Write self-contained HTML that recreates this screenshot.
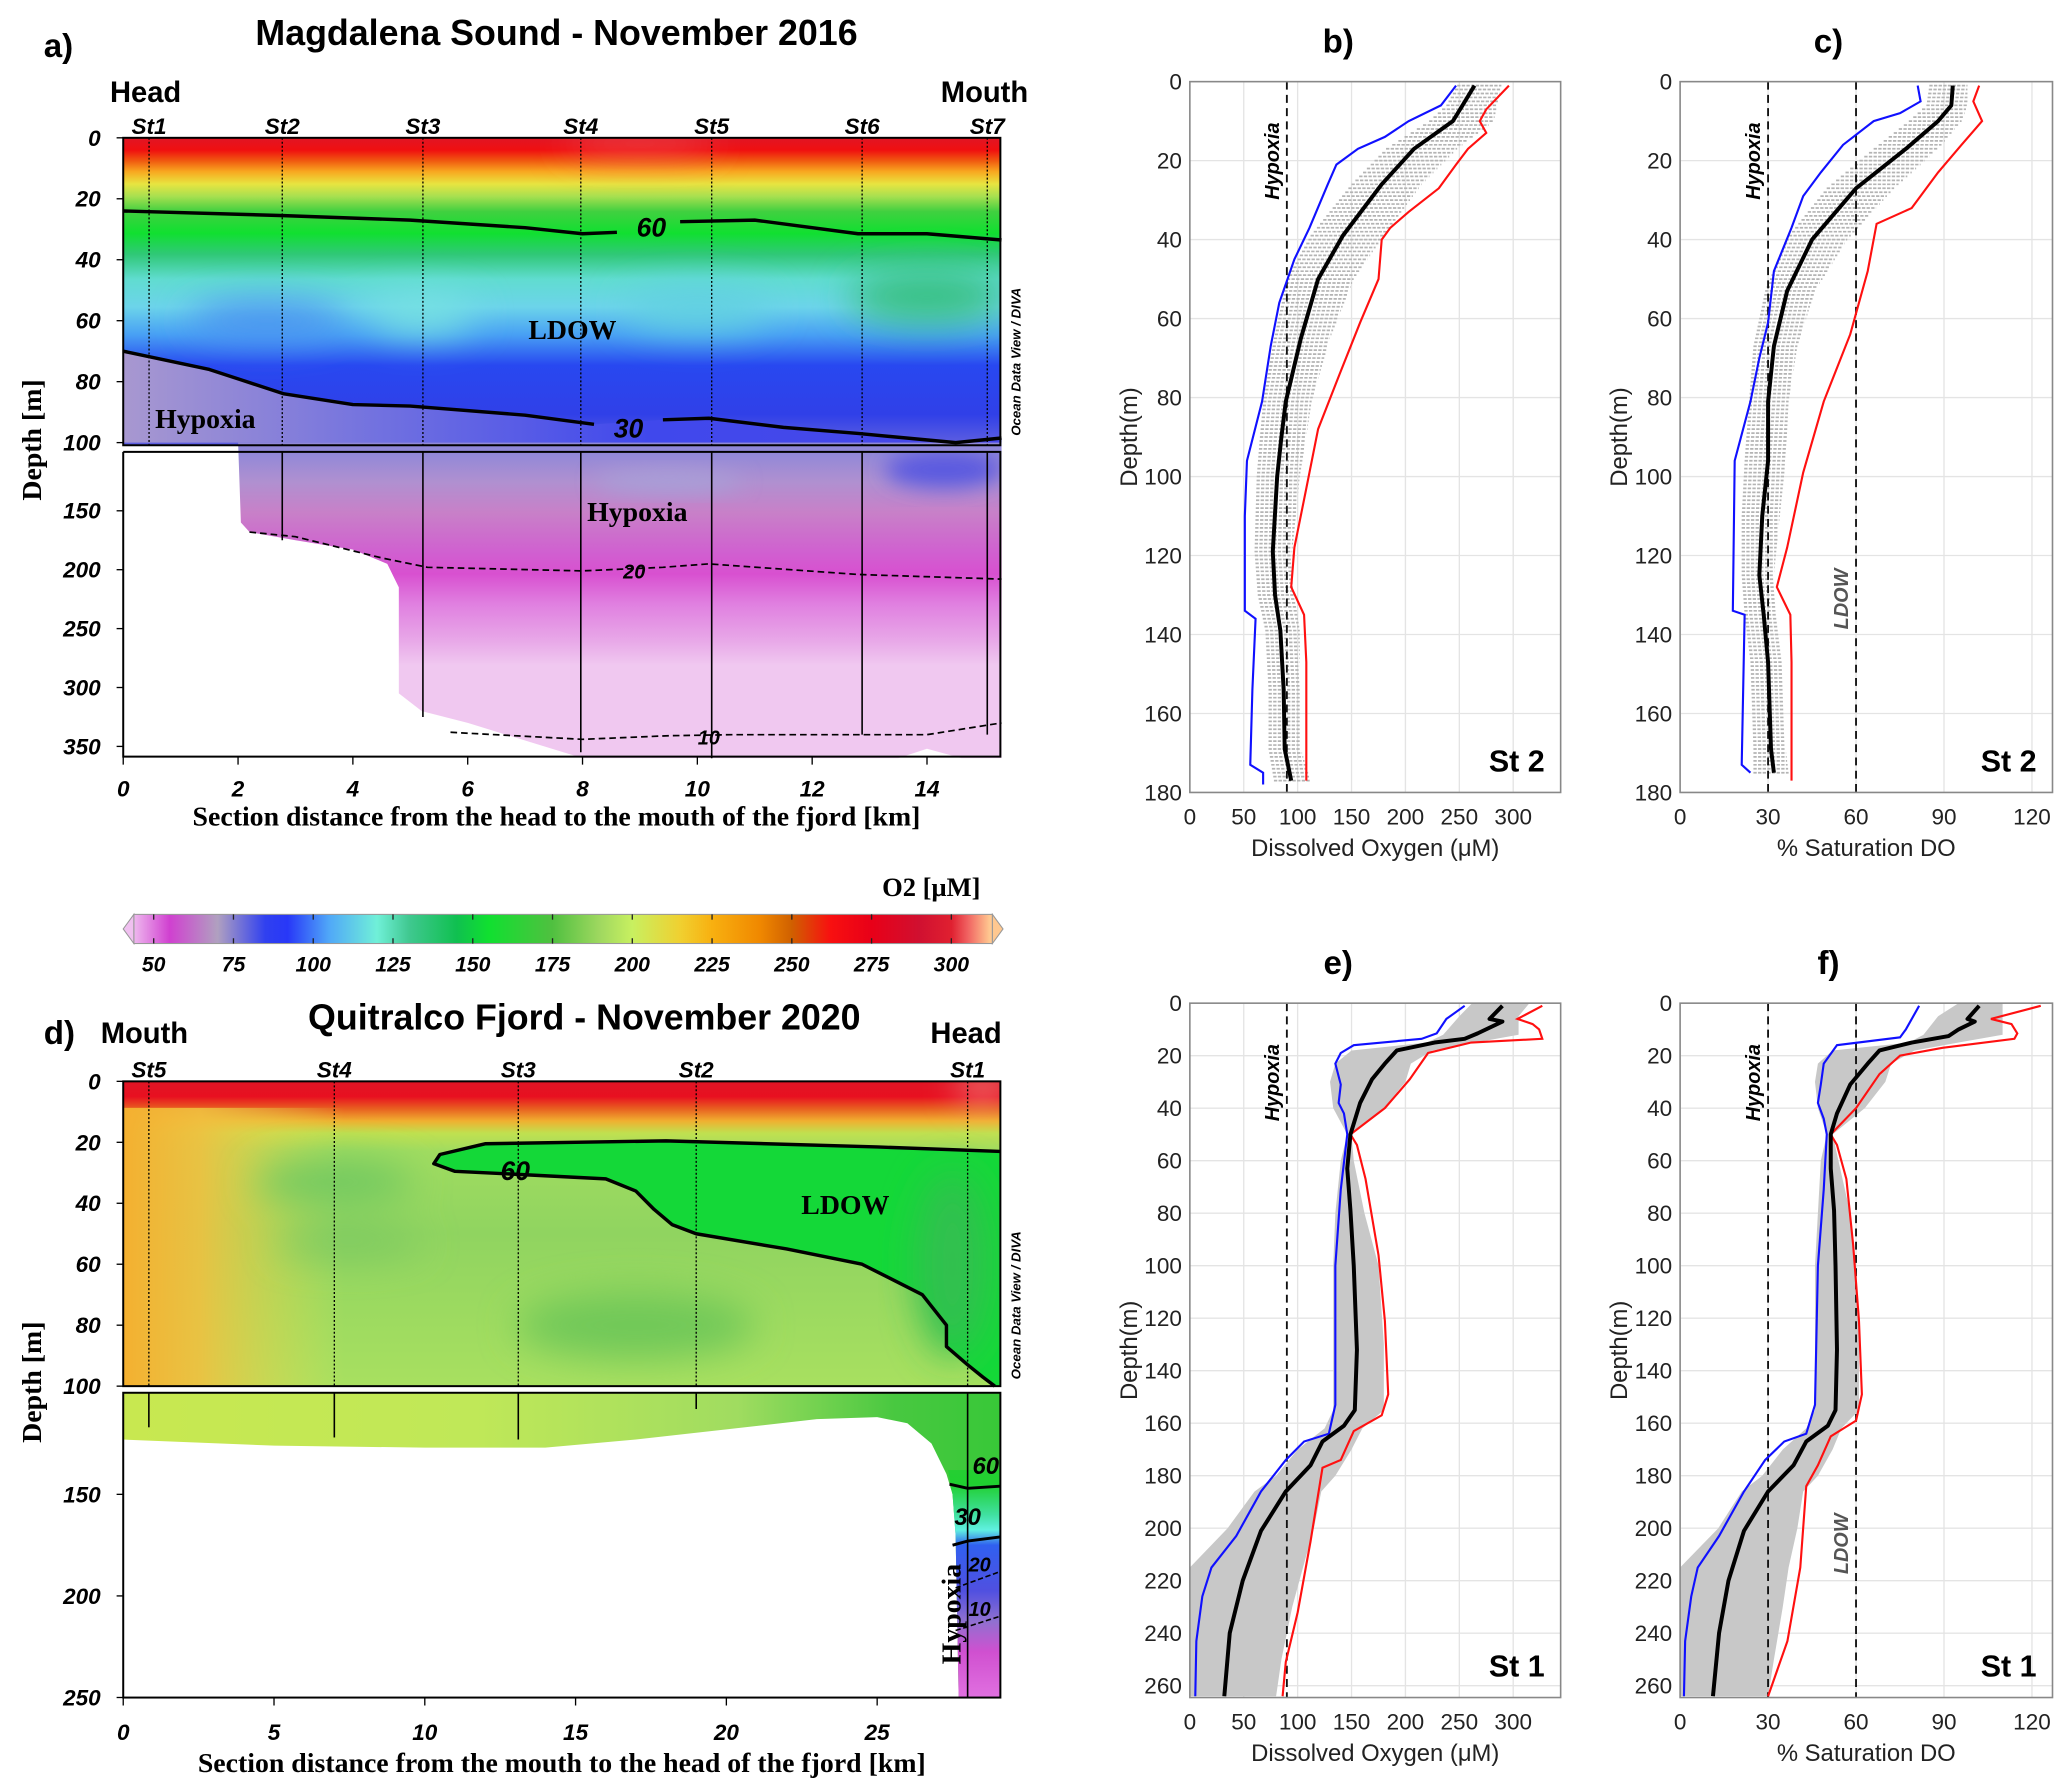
<!DOCTYPE html>
<html><head><meta charset="utf-8"><title>Oxygen sections and profiles</title>
<style>
html,body{margin:0;padding:0;background:#fff;}
svg{display:block;}
</style></head>
<body>
<svg id="fig" xmlns="http://www.w3.org/2000/svg" width="2067" height="1789" viewBox="0 0 1560 1350" preserveAspectRatio="none">
<defs>
<filter id="blur8" x="-50%" y="-50%" width="200%" height="200%"><feGaussianBlur stdDeviation="8"/></filter>
<filter id="blur14" x="-50%" y="-50%" width="200%" height="200%"><feGaussianBlur stdDeviation="14"/></filter>
<linearGradient id="gAtop" gradientUnits="userSpaceOnUse" x1="0" y1="104" x2="0" y2="336">
<stop offset="0" stop-color="#e01525"/><stop offset="0.04" stop-color="#f01010"/><stop offset="0.075" stop-color="#f05a10"/><stop offset="0.11" stop-color="#f8a820"/><stop offset="0.15" stop-color="#e8e440"/><stop offset="0.19" stop-color="#a8e050"/><stop offset="0.24" stop-color="#40d040"/><stop offset="0.31" stop-color="#10e030"/><stop offset="0.38" stop-color="#30c878"/><stop offset="0.46" stop-color="#60dcd0"/><stop offset="0.55" stop-color="#6cd4ea"/><stop offset="0.64" stop-color="#48a0f4"/><stop offset="0.74" stop-color="#2848f0"/><stop offset="0.9" stop-color="#3040e8"/><stop offset="1" stop-color="#6060e0"/>
</linearGradient>
<linearGradient id="gAhyp" gradientUnits="userSpaceOnUse" x1="93" y1="0" x2="755" y2="0">
<stop offset="0" stop-color="#a898d0"/><stop offset="0.3" stop-color="#7070e0"/><stop offset="0.6" stop-color="#4048ec"/><stop offset="1" stop-color="#4848e8"/>
</linearGradient>
<linearGradient id="gAbot" gradientUnits="userSpaceOnUse" x1="0" y1="341" x2="0" y2="571">
<stop offset="0" stop-color="#9088d8"/><stop offset="0.1" stop-color="#b090d0"/><stop offset="0.2" stop-color="#c880c8"/><stop offset="0.33" stop-color="#d060d0"/><stop offset="0.4" stop-color="#d850d0"/><stop offset="0.5" stop-color="#e080e0"/><stop offset="0.62" stop-color="#e8a8e8"/><stop offset="0.7" stop-color="#f0c8f0"/><stop offset="1" stop-color="#f0c8f0"/>
</linearGradient>
<linearGradient id="gDtop" gradientUnits="userSpaceOnUse" x1="0" y1="816" x2="0" y2="1046">
<stop offset="0" stop-color="#e01525"/><stop offset="0.05" stop-color="#e81020"/><stop offset="0.09" stop-color="#e86020"/><stop offset="0.13" stop-color="#f0b030"/><stop offset="0.17" stop-color="#c0e050"/><stop offset="0.23" stop-color="#a0dc60"/><stop offset="0.5" stop-color="#90d460"/><stop offset="1" stop-color="#a8e060"/>
</linearGradient>
<linearGradient id="gDleft" gradientUnits="userSpaceOnUse" x1="93" y1="0" x2="260" y2="0">
<stop offset="0" stop-color="#f4b030" stop-opacity="1"/><stop offset="0.35" stop-color="#f0c040" stop-opacity="0.9"/><stop offset="1" stop-color="#e0e050" stop-opacity="0"/>
</linearGradient>
<linearGradient id="gDbot" gradientUnits="userSpaceOnUse" x1="93" y1="0" x2="755" y2="0">
<stop offset="0" stop-color="#c8e850"/><stop offset="0.4" stop-color="#c0e858"/><stop offset="0.7" stop-color="#a0dc60"/><stop offset="0.88" stop-color="#48c840"/><stop offset="1" stop-color="#38c838"/>
</linearGradient>
<linearGradient id="gDstrip" gradientUnits="userSpaceOnUse" x1="0" y1="1051" x2="0" y2="1281">
<stop offset="0" stop-color="#40c840"/><stop offset="0.3" stop-color="#20d030"/><stop offset="0.4" stop-color="#40e0a0"/><stop offset="0.45" stop-color="#60f0e0"/><stop offset="0.5" stop-color="#3060f0"/><stop offset="0.65" stop-color="#5050e0"/><stop offset="0.75" stop-color="#9070d0"/><stop offset="0.85" stop-color="#d050d0"/><stop offset="1" stop-color="#e070e0"/>
</linearGradient>
<linearGradient id="gBar" gradientUnits="userSpaceOnUse" x1="93" y1="0" x2="757" y2="0"></linearGradient>
<clipPath id="clipAtop"><rect x="93" y="104" width="662" height="232"/></clipPath>
<clipPath id="clipAbot"><rect x="93" y="341" width="662" height="230"/></clipPath>
<clipPath id="clipDtop"><rect x="93" y="816" width="662" height="230"/></clipPath>
</defs>
</svg>
<script>
// ---------------- DATA ----------------
const aStationNames = ['St1','St2','St3','St4','St5','St6','St7'];
const aStationKm = [0.45, 2.77, 5.22, 7.97, 10.25, 12.87, 15.05];
const aStationCastDepth = [98, 175, 325, 355, 360, 340, 340];
const aContour60Km = [0, 2.8, 5, 7, 8, 8.6];
const aContour60Depth = [24, 25.5, 27, 29.5, 31.5, 31];
const aContour60bKm = [9.7, 11, 12.8, 14, 15.3];
const aContour60bDepth = [27.5, 27, 31.5, 31.5, 33.5];
const aContour30Km = [0, 1.5, 2.8, 4, 5, 7, 8.2];
const aContour30Depth = [70, 76, 84, 87.5, 88, 91, 94];
const aContour30bKm = [9.4, 10.2, 11.5, 12.8, 14.5, 15.3];
const aContour30bDepth = [92.5, 92, 95, 97, 100, 98.5];
const aContour20Km = [2.2, 3, 4.5, 5.3, 8, 9.4, 10.2, 12.8, 15.3];
const aContour20Depth = [168, 172, 190, 198, 201, 198, 195, 204, 208];
const aContour10Km = [5.7, 8, 9.5, 10.6, 12.8, 14, 15.3];
const aContour10Depth = [338, 344, 341, 340, 340, 340, 330];
const aBottomKm = [2.0, 2.05, 2.2, 3, 4, 4.6, 4.8, 4.8, 5.2, 6, 7, 8, 13.5, 14, 14.6, 15.3];
const aBottomDepth = [100, 160, 168, 175, 183, 195, 215, 305, 320, 330, 345, 360, 360, 352, 360, 360];
const aXTicks = [0, 2, 4, 6, 8, 10, 12, 14];
const aDepthTicksTop = [0, 20, 40, 60, 80, 100];
const aDepthTicksBot = [150, 200, 250, 300, 350];
const dStationNames = ['St5','St4','St3','St2','St1'];
const dStationKm = [0.85, 7.0, 13.1, 19.0, 28.0];
const dStationCastDepth = [117, 122, 123, 108, 250];
const dContour60Km = [29.08, 25, 18, 12, 10.5, 10.3, 11, 13, 16, 17, 17.6, 18.2, 19, 22, 24.5, 26.5, 27.3, 27.3, 28, 28.5, 28.9];
const dContour60Depth = [23, 21.5, 19.5, 20.5, 24, 27, 29.5, 30.5, 32, 36, 42, 47, 50, 55, 60, 70, 80, 87, 93, 97, 100];
const dBottomKm = [0, 5, 10, 14, 17, 20, 23, 25, 26, 26.8, 27.3, 27.5, 27.6, 27.7, 29.08];
const dBottomDepth = [123, 126, 127, 127, 123, 118, 113, 112, 115, 125, 140, 150, 170, 250, 250];
const dC60bKm = [27.4, 28, 29.08]; const dC60bDepth = [145, 147, 146];
const dC30Km = [27.5, 28, 29.08]; const dC30Depth = [175, 173, 171];
const dC20Km = [27.6, 29.08]; const dC20Depth = [196, 188];
const dC10Km = [27.6, 29.08]; const dC10Depth = [217, 210];
const dXTicks = [0, 5, 10, 15, 20, 25];
const dDepthTicksTop = [0, 20, 40, 60, 80, 100];
const dDepthTicksBot = [150, 200, 250];
const barTicks = [50, 75, 100, 125, 150, 175, 200, 225, 250, 275, 300];
const barStopValues = [43, 55, 70, 85, 92, 105, 120, 130, 145, 155, 175, 190, 200, 215, 225, 240, 250, 262, 275, 290, 300, 305, 312];
const barStopColors = ['#f0c0f0','#d040d0','#b0a0c0','#3040f0','#2838f8','#50a8f8','#70f0d8','#40c890','#10c050','#10e030','#50c040','#a0d860','#c8f060','#f0d030','#f8b010','#f08800','#d06000','#f81010','#e80018','#d01030','#e02030','#f06060','#ffc890'];
const bMeanDepth = [1, 6, 10, 17, 26, 39, 50, 65, 81, 90, 100, 119, 130, 139, 154, 169, 177];
const bMean = [264, 253, 244, 208, 178, 142, 119, 103, 89, 85, 81, 77, 79, 84, 87, 88, 94];
const bSdLo = [248, 238, 222, 182, 150, 112, 90, 78, 68, 65, 62, 60, 63, 70, 73, 73, 78];
const bSdHi = [289, 285, 282, 248, 215, 180, 152, 130, 113, 108, 102, 95, 97, 102, 102, 103, 112];
const bMinDepth = [1, 6, 10, 14, 17, 21, 26, 37, 45, 56, 67, 81, 96, 110, 134, 136, 154, 173, 175, 178];
const bMin = [247, 233, 203, 181, 156, 136, 128, 111, 97, 83, 75, 67, 53, 51, 51, 61, 58, 56, 68, 68];
const bMaxDepth = [1, 7, 10, 13, 17, 21, 27, 33, 37, 40, 50, 61, 74, 88, 103, 118, 128, 135, 147, 177];
const bMax = [296, 275, 269, 275, 258, 247, 231, 203, 186, 178, 175, 158, 139, 119, 108, 97, 94, 106, 108, 108];
const cMeanDepth = [1, 6, 10, 17, 27, 40, 53, 67, 81, 96, 110, 125, 135, 147, 169, 175];
const cMean = [93, 92.5, 88, 77, 60, 45, 36.5, 32, 30, 30, 28, 27, 28.5, 30, 31, 32];
const cSdLo = [85, 84, 78, 66, 50, 36, 29, 25, 23.5, 22, 21, 21, 22, 24, 25, 25];
const cSdHi = [98, 98, 96, 88, 73, 57, 46, 40, 37, 36, 34, 32, 33, 35, 36, 37];
const cMinDepth = [1, 5, 8, 10, 16, 23, 29, 37, 48, 61, 70, 81, 96, 134, 135, 173, 175];
const cMin = [81, 82, 75, 66, 55.6, 48, 42, 38, 32, 30, 27, 24, 18.6, 18, 22, 21, 24];
const cMaxDepth = [1, 5, 10, 16, 23, 32, 36, 48, 64, 81, 99, 118, 128, 135, 147, 177];
const cMax = [102, 100, 103, 96, 88, 79, 67, 64, 58, 49, 42, 36.5, 33, 37.6, 38, 38];
const eMeanDepth = [1, 6, 7, 11.5, 13.6, 15, 18, 23, 29, 38, 50, 63, 79, 100, 132, 155, 161, 167, 176, 186, 201, 220, 240, 264];
const eMean = [290, 278, 290, 267, 255, 227, 192, 181, 169, 158, 149, 146, 149, 152, 155, 153, 143, 123, 112, 89, 66, 49, 37, 32];
const eMinDepth = [1, 6, 11.5, 13.6, 16, 19, 23, 31, 38, 42, 50, 71, 100, 153, 164, 167, 174, 186, 203, 215, 226, 243, 264];
const eMin = [255, 238, 229, 215, 152, 140, 135, 140, 138, 143, 146, 140, 135, 135, 129, 106, 89, 66, 43, 20, 11.5, 6, 5];
const eMaxDepth = [1, 6, 8, 10, 13.6, 15, 19, 29, 40, 50, 54, 67, 96, 121, 149, 157, 163, 174, 177, 205, 232, 251, 264];
const eMax = [327, 304, 318, 324, 327, 261, 221, 204, 181, 149, 155, 163, 175, 181, 184, 178, 152, 140, 123, 112, 100, 89, 86];
const eBandDepth = [0, 5, 12, 15, 18, 23, 30, 40, 50, 60, 80, 100, 130, 155, 162, 170, 180, 186, 200, 215, 230, 250, 264];
const eBandLo = [262, 250, 235, 220, 150, 135, 130, 133, 146, 140, 135, 133, 133, 133, 125, 100, 80, 60, 35, 0, 0, 0, 0];
const eBandHi = [315, 305, 305, 265, 225, 205, 200, 180, 150, 152, 162, 175, 180, 180, 160, 150, 135, 122, 115, 105, 95, 85, 80];
const fMeanDepth = [1, 6, 7, 10, 12.5, 15, 18, 23, 31, 42, 50, 63, 79, 100, 132, 155, 161, 167, 176, 186, 201, 220, 240, 264];
const fMean = [102, 98, 100.5, 95, 91.6, 79, 68, 64, 58, 53.5, 51.4, 51.4, 52.5, 53, 53.5, 53, 50.4, 43, 38.7, 30, 21.8, 16.5, 13.3, 11.2];
const fMinDepth = [1, 10, 13, 16, 23, 31, 38, 44, 50, 71, 100, 153, 164, 167, 174, 186, 203, 215, 226, 243, 264];
const fMin = [81.5, 77, 75, 53.5, 49, 48, 47, 49, 50, 49, 47, 46, 43, 35.5, 29, 21.8, 13.3, 6, 3.8, 1.7, 1.3];
const fMaxDepth = [1, 6, 8, 11.5, 13.6, 17, 20, 27, 40, 50, 54, 67, 92, 121, 149, 159, 165, 176, 184, 215, 243, 264];
const fMax = [123, 106, 113, 115, 114, 89.5, 75, 68, 60, 51.4, 53.5, 56.7, 59, 61, 62, 60, 51.4, 47, 43, 41, 36.6, 30];
const fBandLo = [95, 88, 83, 78, 52, 47, 46, 47, 50, 48, 47, 46, 46, 46, 43, 35, 28, 21, 13, 0, 0, 0, 0];
const fBandHi = [110, 110, 110, 95, 80, 72, 70, 63, 52, 54, 58, 60, 61, 61, 55, 52, 47, 42, 40, 37, 35, 32, 30];
const bXTicks = [0, 50, 100, 150, 200, 250, 300];
const cXTicks = [0, 30, 60, 90, 120];
const bDepthTicks = [0, 20, 40, 60, 80, 100, 120, 140, 160, 180];
const eDepthTicks = [0, 20, 40, 60, 80, 100, 120, 140, 160, 180, 200, 220, 240, 260];

// ---------------- HELPERS ----------------
const NS = 'http://www.w3.org/2000/svg';
const svg = document.getElementById('fig');
function mk(tag, attrs, parent) {
  const e = document.createElementNS(NS, tag);
  for (const k in attrs) e.setAttribute(k, attrs[k]);
  (parent || svg).appendChild(e);
  return e;
}
function txt(str, attrs, parent) { const e = mk('text', attrs, parent); e.textContent = str; return e; }
function ptsStr(xs, ys, fx, fy) { return xs.map((x, i) => fx(x).toFixed(1) + ',' + fy(ys[i]).toFixed(1)).join(' '); }
const SANS = '"Liberation Sans", sans-serif';
const SERIF = '"Liberation Serif", serif';

const xA = k => 93 + k * 43.33;
const yA = d => d <= 100 ? 104 + d * 2.3 : 341 + (d - 100) * 0.889;
const xD = k => 93 + k * 22.76;
const yD = d => d <= 100 ? 816 + d * 2.3 : 1051 + (d - 100) * 1.533;
const xBar = v => 116 + (v - 50) * 2.408;

const gBar = document.getElementById('gBar');
barStopValues.forEach((v, i) => {
  mk('stop', {offset: ((xBar(v) - 93) / 664).toFixed(4), 'stop-color': barStopColors[i]}, gBar);
});

// ---------------- PANEL A ----------------
const gA = mk('g', {});


let e;
e = txt('a)', {x: 33, y: 43, 'font-family': SANS, 'font-weight': 'bold', 'font-size': 25}, gA);


e = txt('Magdalena Sound - November 2016', {x: 420, y: 34, 'text-anchor': 'middle', 'font-family': SANS, 'font-weight': 'bold', 'font-size': 27}, gA);


e = txt('Head', {x: 83, y: 77, 'font-family': SANS, 'font-size': 22, 'font-weight': 'bold'}, gA);


e = txt('Mouth', {x: 776, y: 77, 'text-anchor': 'end', 'font-family': SANS, 'font-size': 22, 'font-weight': 'bold'}, gA);


e = mk('rect', {x: 93, y: 104, width: 662, height: 232, fill: 'url(#gAtop)'}, gA);


const blobsA = mk('g', {'clip-path': 'url(#clipAtop)'}, gA);


const blobsAi = mk('g', {filter: 'url(#blur14)'}, blobsA);
mk('ellipse', {cx: xA(5.2), cy: yA(58), rx: 40, ry: 14, fill: '#78e4e0'}, blobsAi);
mk('ellipse', {cx: xA(10), cy: yA(56), rx: 55, ry: 16, fill: '#60d0e0'}, blobsAi);
mk('ellipse', {cx: xA(14), cy: yA(52), rx: 60, ry: 20, fill: '#38c080'}, blobsAi);
mk('ellipse', {cx: xA(2.5), cy: yA(60), rx: 60, ry: 14, fill: '#4890f0'}, blobsAi);
mk('ellipse', {cx: xA(9), cy: yA(2), rx: 60, ry: 6, fill: '#f06060'}, blobsAi);
const hypPolyX = [0].concat(aContour30Km, aContour30bKm, [15.3, 0]);
const hypPolyY = [70].concat(aContour30Depth, aContour30bDepth, [100, 100]);
e = mk('polygon', {points: ptsStr(hypPolyX, hypPolyY, xA, yA), fill: 'url(#gAhyp)'}, gA);


const aBotX = aBottomKm.concat([15.3]); const aBotY = aBottomDepth.concat([100]);
e = mk('polygon', {points: ptsStr(aBotX, aBotY, xA, yA), fill: 'url(#gAbot)'}, gA);


const blobsAb = mk('g', {'clip-path': 'url(#clipAbot)'}, gA);


mk('ellipse', {cx: xA(14.3), cy: yA(115), rx: 45, ry: 14, fill: '#5858e0', filter: 'url(#blur8)'}, blobsAb);
mk('ellipse', {cx: xA(9.5), cy: yA(125), rx: 55, ry: 8, fill: '#a8a0d8', filter: 'url(#blur8)'}, blobsAb);
[[aContour60Km, aContour60Depth, 'contour-60-a'], [aContour60bKm, aContour60bDepth, 'contour-60-b'], [aContour30Km, aContour30Depth, 'contour-30-a'], [aContour30bKm, aContour30bDepth, 'contour-30-b']].forEach(c => {
  const p = mk('polyline', {points: ptsStr(c[0], c[1], xA, yA), fill: 'none', stroke: '#000', 'stroke-width': 2.6, 'stroke-linejoin': 'round'}, gA);
  
  
});
[[aContour20Km, aContour20Depth, 'contour-20'], [aContour10Km, aContour10Depth, 'contour-10']].forEach(c => {
  const p = mk('polyline', {points: ptsStr(c[0], c[1], xA, yA), fill: 'none', stroke: '#000', 'stroke-width': 1.3, 'stroke-dasharray': '5 3'}, gA);
  
  
});
[['60', 9.2, 31, 20], ['30', 8.8, 97, 20], ['20', 8.9, 204, 15], ['10', 10.2, 345, 15]].forEach(c => {
  const t = txt(c[0], {x: xA(c[1]), y: yA(c[2]) + 3, 'text-anchor': 'middle', 'font-family': SANS, 'font-style': 'italic', 'font-weight': 'bold', 'font-size': c[3]}, gA);
  
  
});
aStationKm.forEach((k, i) => {
  const l1 = mk('line', {x1: xA(k), y1: 104, x2: xA(k), y2: 336, stroke: '#000', 'stroke-width': 1, 'stroke-dasharray': '1.5 1.5'}, gA);
  
  
  if (aStationCastDepth[i] > 100) {
    const l2 = mk('line', {x1: xA(k), y1: 341, x2: xA(k), y2: yA(aStationCastDepth[i]), stroke: '#000', 'stroke-width': 1.2}, gA);
    
    
  }
  const t = txt(aStationNames[i], {x: xA(k), y: 101, 'text-anchor': 'middle', 'font-family': SANS, 'font-style': 'italic', 'font-weight': 'bold', 'font-size': 17}, gA);
  
  
});
e = mk('rect', {x: 93, y: 104, width: 662, height: 232, fill: 'none', stroke: '#000', 'stroke-width': 1.5}, gA);


e = mk('polyline', {points: '93,341 755,341 755,571 93,571 93,341', fill: 'none', stroke: '#000', 'stroke-width': 1.5}, gA);


e = txt('LDOW', {x: 432, y: 256, 'text-anchor': 'middle', 'font-family': SERIF, 'font-weight': 'bold', 'font-size': 21}, gA);


e = txt('Hypoxia', {x: 155, y: 323, 'text-anchor': 'middle', 'font-family': SERIF, 'font-weight': 'bold', 'font-size': 21}, gA);


e = txt('Hypoxia', {x: 481, y: 393, 'text-anchor': 'middle', 'font-family': SERIF, 'font-weight': 'bold', 'font-size': 21}, gA);


e = txt('Ocean Data View / DIVA', {x: 0, y: 0, transform: 'translate(770,273) rotate(-90)', 'text-anchor': 'middle', 'font-family': SANS, 'font-style': 'italic', 'font-weight': 'bold', 'font-size': 10}, gA);


aDepthTicksTop.concat(aDepthTicksBot).forEach(d => {
  const tk = mk('line', {x1: 88, y1: yA(d), x2: 93, y2: yA(d), stroke: '#000', 'stroke-width': 1}, gA);
  
  
  const t = txt(String(d), {x: 76, y: yA(d) + 6, 'text-anchor': 'end', 'font-family': SANS, 'font-style': 'italic', 'font-weight': 'bold', 'font-size': 17}, gA);
  
  
});
aXTicks.forEach(k => {
  const tk = mk('line', {x1: xA(k), y1: 571, x2: xA(k), y2: 577, stroke: '#000', 'stroke-width': 1}, gA);
  
  
  const t = txt(String(k), {x: xA(k), y: 601, 'text-anchor': 'middle', 'font-family': SANS, 'font-style': 'italic', 'font-weight': 'bold', 'font-size': 17}, gA);
  
  
});
e = txt('Depth [m]', {x: 0, y: 0, transform: 'translate(31,332) rotate(-90)', 'text-anchor': 'middle', 'font-family': SERIF, 'font-weight': 'bold', 'font-size': 21}, gA);


e = txt('Section distance from the head to the mouth of the fjord [km]', {x: 420, y: 623, 'text-anchor': 'middle', 'font-family': SERIF, 'font-weight': 'bold', 'font-size': 21}, gA);



// ---------------- COLORBAR ----------------
const gC = mk('g', {});


e = mk('rect', {x: 101, y: 690, width: 648, height: 22, fill: 'url(#gBar)', stroke: '#999', 'stroke-width': 0.8}, gC);


e = mk('polygon', {points: '93,701 101,690 101,712', fill: '#f0c0f0', stroke: '#999', 'stroke-width': 0.8}, gC);


e = mk('polygon', {points: '757,701 749,690 749,712', fill: '#ffc890', stroke: '#999', 'stroke-width': 0.8}, gC);


barTicks.forEach(v => {
  const tk = mk('line', {x1: xBar(v), y1: 690, x2: xBar(v), y2: 694, stroke: '#222', 'stroke-width': 1}, gC);
  
  
  const tk2 = mk('line', {x1: xBar(v), y1: 708, x2: xBar(v), y2: 712, stroke: '#222', 'stroke-width': 1}, gC);
  
  
  const t = txt(String(v), {x: xBar(v), y: 733, 'text-anchor': 'middle', 'font-family': SANS, 'font-style': 'italic', 'font-weight': 'bold', 'font-size': 16}, gC);
  
  
});
e = txt('O2 [µM]', {x: 740, y: 676, 'text-anchor': 'end', 'font-family': SERIF, 'font-weight': 'bold', 'font-size': 20}, gC);



// ---------------- PANEL D ----------------
const gD = mk('g', {});


e = txt('d)', {x: 33, y: 788, 'font-family': SANS, 'font-weight': 'bold', 'font-size': 25}, gD);


e = txt('Quitralco Fjord - November 2020', {x: 441, y: 777, 'text-anchor': 'middle', 'font-family': SANS, 'font-weight': 'bold', 'font-size': 27}, gD);


e = txt('Mouth', {x: 76, y: 787, 'font-family': SANS, 'font-size': 22, 'font-weight': 'bold'}, gD);


e = txt('Head', {x: 756, y: 787, 'text-anchor': 'end', 'font-family': SANS, 'font-size': 22, 'font-weight': 'bold'}, gD);


e = mk('rect', {x: 93, y: 816, width: 662, height: 230, fill: 'url(#gDtop)'}, gD);


e = mk('rect', {x: 93, y: 836, width: 200, height: 210, fill: 'url(#gDleft)'}, gD);


const blobsD = mk('g', {'clip-path': 'url(#clipDtop)'}, gD);


const blobsDi = mk('g', {filter: 'url(#blur14)'}, blobsD);
mk('ellipse', {cx: xD(7), cy: yD(33), rx: 60, ry: 16, fill: '#70c860'}, blobsDi);
mk('ellipse', {cx: xD(7.5), cy: yD(53), rx: 55, ry: 10, fill: '#78c860'}, blobsDi);
mk('ellipse', {cx: xD(17), cy: yD(80), rx: 90, ry: 25, fill: '#70c858'}, blobsDi);
mk('ellipse', {cx: xD(28.5), cy: yD(2), rx: 18, ry: 8, fill: '#f8c0b0'}, blobsDi);
const dInX = dContour60Km.concat([29.08]); const dInY = dContour60Depth.concat([100]);
e = mk('polygon', {points: ptsStr(dInX, dInY, xD, yD), fill: '#14d838'}, gD);


const blobsD2 = mk('g', {'clip-path': 'url(#clipDtop)'}, gD);


mk('ellipse', {cx: xD(27.5), cy: yD(60), rx: 28, ry: 70, fill: '#30c050', filter: 'url(#blur14)'}, blobsD2);
e = mk('polyline', {points: ptsStr(dContour60Km, dContour60Depth, xD, yD), fill: 'none', stroke: '#000', 'stroke-width': 2.6, 'stroke-linejoin': 'round'}, gD);


e = mk('polygon', {points: '93,1051 ' + ptsStr(dBottomKm, dBottomDepth, xD, yD) + ' 755,1051', fill: 'url(#gDbot)'}, gD);


const stripX = [27.35, 27.5, 27.6, 27.7, 29.08, 29.08]; const stripY = [138, 150, 170, 250, 250, 138];
e = mk('polygon', {points: ptsStr(stripX, stripY, xD, yD), fill: 'url(#gDstrip)'}, gD);


[[dC60bKm, dC60bDepth, 'contour-60-deep'], [dC30Km, dC30Depth, 'contour-30-deep']].forEach(c => {
  const p = mk('polyline', {points: ptsStr(c[0], c[1], xD, yD), fill: 'none', stroke: '#000', 'stroke-width': 2.2}, gD);
  
  
});
[[dC20Km, dC20Depth, 'contour-20-deep'], [dC10Km, dC10Depth, 'contour-10-deep']].forEach(c => {
  const p = mk('polyline', {points: ptsStr(c[0], c[1], xD, yD), fill: 'none', stroke: '#000', 'stroke-width': 1.2, 'stroke-dasharray': '4 2'}, gD);
  
  
});
[['60', 28.6, 140], ['30', 28.0, 165], ['20', 28.4, 188], ['10', 28.4, 210]].forEach(c => {
  const t = txt(c[0], {x: xD(c[1]), y: yD(c[2]), 'text-anchor': 'middle', 'font-family': SANS, 'font-style': 'italic', 'font-weight': 'bold', 'font-size': c[0] === '60' || c[0] === '30' ? 18 : 15}, gD);
  
  
});
e = txt('60', {x: xD(13), y: yD(32) + 1, 'text-anchor': 'middle', 'font-family': SANS, 'font-style': 'italic', 'font-weight': 'bold', 'font-size': 20}, gD);


dStationKm.forEach((k, i) => {
  const l1 = mk('line', {x1: xD(k), y1: 816, x2: xD(k), y2: 1046, stroke: '#000', 'stroke-width': 1, 'stroke-dasharray': '1.5 1.5'}, gD);
  
  
  const l2 = mk('line', {x1: xD(k), y1: 1051, x2: xD(k), y2: yD(dStationCastDepth[i]), stroke: '#000', 'stroke-width': 1.2}, gD);
  
  
  const t = txt(dStationNames[i], {x: xD(k), y: 813, 'text-anchor': 'middle', 'font-family': SANS, 'font-style': 'italic', 'font-weight': 'bold', 'font-size': 17}, gD);
  
  
});
e = mk('rect', {x: 93, y: 816, width: 662, height: 230, fill: 'none', stroke: '#000', 'stroke-width': 1.5}, gD);


e = mk('rect', {x: 93, y: 1051, width: 662, height: 230, fill: 'none', stroke: '#000', 'stroke-width': 1.5}, gD);


e = txt('LDOW', {x: 638, y: 916, 'text-anchor': 'middle', 'font-family': SERIF, 'font-weight': 'bold', 'font-size': 21}, gD);


e = txt('Hypoxia', {x: 0, y: 0, transform: 'translate(725,1218) rotate(-90)', 'text-anchor': 'middle', 'font-family': SERIF, 'font-weight': 'bold', 'font-size': 21}, gD);


e = txt('Ocean Data View / DIVA', {x: 0, y: 0, transform: 'translate(770,985) rotate(-90)', 'text-anchor': 'middle', 'font-family': SANS, 'font-style': 'italic', 'font-weight': 'bold', 'font-size': 10}, gD);


dDepthTicksTop.concat(dDepthTicksBot).forEach(d => {
  const tk = mk('line', {x1: 88, y1: yD(d), x2: 93, y2: yD(d), stroke: '#000', 'stroke-width': 1}, gD);
  
  
  const t = txt(String(d), {x: 76, y: yD(d) + 6, 'text-anchor': 'end', 'font-family': SANS, 'font-style': 'italic', 'font-weight': 'bold', 'font-size': 17}, gD);
  
  
});
dXTicks.forEach(k => {
  const tk = mk('line', {x1: xD(k), y1: 1281, x2: xD(k), y2: 1287, stroke: '#000', 'stroke-width': 1}, gD);
  
  
  const t = txt(String(k), {x: xD(k), y: 1313, 'text-anchor': 'middle', 'font-family': SANS, 'font-style': 'italic', 'font-weight': 'bold', 'font-size': 17}, gD);
  
  
});
e = txt('Depth [m]', {x: 0, y: 0, transform: 'translate(31,1043) rotate(-90)', 'text-anchor': 'middle', 'font-family': SERIF, 'font-weight': 'bold', 'font-size': 21}, gD);


e = txt('Section distance from the mouth to the head of the fjord [km]', {x: 424, y: 1337, 'text-anchor': 'middle', 'font-family': SERIF, 'font-weight': 'bold', 'font-size': 21}, gD);



// ---------------- PROFILES ----------------
function interp(ds, vs, d) {
  if (d <= ds[0]) return vs[0];
  for (let i = 1; i < ds.length; i++) if (d <= ds[i]) { const t = (d - ds[i - 1]) / (ds[i] - ds[i - 1]); return vs[i - 1] + t * (vs[i] - vs[i - 1]); }
  return vs[vs.length - 1];
}
function profile(cfg) {
  const g = mk('g', {});
  
  
  const px = v => cfg.x0 + v * cfg.xs;
  const py = d => cfg.y0 + d * cfg.ys;
  const x1 = cfg.x0 + cfg.xMax * cfg.xs, y1 = py(cfg.dMax);
  cfg.xTicks.forEach(v => {
    const gl = mk('line', {x1: px(v), y1: cfg.y0, x2: px(v), y2: y1, stroke: '#e4e4e4', 'stroke-width': 1}, g);
    
    
    const t = txt(String(v), {x: px(v), y: y1 + 24, 'text-anchor': 'middle', 'font-family': SANS, 'font-size': 17, fill: '#222'}, g);
    
    
  });
  cfg.dTicks.forEach(d => {
    const gl = mk('line', {x1: cfg.x0, y1: py(d), x2: x1, y2: py(d), stroke: '#e4e4e4', 'stroke-width': 1}, g);
    
    
    const t = txt(String(d), {x: cfg.x0 - 6, y: py(d) + 6, 'text-anchor': 'end', 'font-family': SANS, 'font-size': 17, fill: '#222'}, g);
    
    
  });
  if (cfg.hatch) {
    for (let d = Math.ceil(cfg.meanD[0]); d <= cfg.meanD[cfg.meanD.length - 1]; d += 1) {
      const lo = interp(cfg.meanD, cfg.sdLo, d), hi = interp(cfg.meanD, cfg.sdHi, d);
      const h = mk('line', {x1: px(lo), y1: py(d), x2: px(hi), y2: py(d), stroke: '#b4b4b4', 'stroke-width': 1.3, 'stroke-dasharray': '2.5 1'}, g);
      
      
    }
  } else {
    const xs = cfg.bandLo.concat(cfg.bandHi.slice().reverse());
    const ds = cfg.bandD.concat(cfg.bandD.slice().reverse());
    const b = mk('polygon', {points: ptsStr(xs, ds, px, py), fill: '#c8c8c8'}, g);
    
    
  }
  cfg.refLines.forEach(v => {
    const r = mk('line', {x1: px(v), y1: cfg.y0, x2: px(v), y2: y1, stroke: '#111', 'stroke-width': 1.4, 'stroke-dasharray': '6 4'}, g);
    
    
  });
  const mn = mk('polyline', {points: ptsStr(cfg.minV, cfg.minD, px, py), fill: 'none', stroke: '#1010ff', 'stroke-width': 1.6}, g);
  
  
  const mxl = mk('polyline', {points: ptsStr(cfg.maxV, cfg.maxD, px, py), fill: 'none', stroke: '#ff1010', 'stroke-width': 1.6}, g);
  
  
  const me = mk('polyline', {points: ptsStr(cfg.mean, cfg.meanD, px, py), fill: 'none', stroke: '#000', 'stroke-width': 3, 'stroke-linejoin': 'round'}, g);
  
  
  const box = mk('rect', {x: cfg.x0, y: cfg.y0, width: x1 - cfg.x0, height: y1 - cfg.y0, fill: 'none', stroke: '#888', 'stroke-width': 1.2}, g);
  
  
  const lab = txt(cfg.letter, {x: cfg.x0 + 112, y: cfg.y0 - 22, 'text-anchor': 'middle', 'font-family': SANS, 'font-weight': 'bold', 'font-size': 25}, g);
  
  
  const st = txt(cfg.station, {x: x1 - 12, y: y1 - 16, 'text-anchor': 'end', 'font-family': SANS, 'font-weight': 'bold', 'font-size': 23}, g);
  
  
  const yl = txt('Depth(m)', {x: 0, y: 0, transform: 'translate(' + (cfg.x0 - 40) + ',' + ((cfg.y0 + y1) / 2) + ') rotate(-90)', 'text-anchor': 'middle', 'font-family': SANS, 'font-size': 18, fill: '#222'}, g);
  
  
  const xl = txt(cfg.xTitle, {x: (cfg.x0 + x1) / 2, y: y1 + 48, 'text-anchor': 'middle', 'font-family': SANS, 'font-size': 18, fill: '#222'}, g);
  
  
  const hy = txt('Hypoxia', {x: 0, y: 0, transform: 'translate(' + (px(cfg.hypX) - 6) + ',' + (cfg.y0 + 60) + ') rotate(-90)', 'text-anchor': 'middle', 'font-family': SANS, 'font-style': 'italic', 'font-weight': 'bold', 'font-size': 15}, g);
  
  
  if (cfg.ldowY) {
    const ld = txt('LDOW', {x: 0, y: 0, transform: 'translate(' + (px(60) - 6) + ',' + cfg.ldowY + ') rotate(-90)', 'text-anchor': 'middle', 'font-family': SANS, 'font-style': 'italic', 'font-weight': 'bold', 'font-size': 15, fill: '#555'}, g);
    
    
  }
}
profile({name: 'panel-b-profile', letter: 'b)', station: 'St 2', x0: 898, xs: 0.8135, xMax: 344, y0: 61.6, ys: 2.98, dMax: 180, xTicks: bXTicks, dTicks: bDepthTicks,
  hatch: true, meanD: bMeanDepth, mean: bMean, sdLo: bSdLo, sdHi: bSdHi, minD: bMinDepth, minV: bMin, maxD: bMaxDepth, maxV: bMax,
  refLines: [90], hypX: 90, xTitle: 'Dissolved Oxygen (\u03bcM)'});
profile({name: 'panel-c-profile', letter: 'c)', station: 'St 2', x0: 1268, xs: 2.213, xMax: 127, y0: 61.6, ys: 2.98, dMax: 180, xTicks: cXTicks, dTicks: bDepthTicks,
  hatch: true, meanD: cMeanDepth, mean: cMean, sdLo: cSdLo, sdHi: cSdHi, minD: cMinDepth, minV: cMin, maxD: cMaxDepth, maxV: cMax,
  refLines: [30, 60], hypX: 30, ldowY: 452, xTitle: '% Saturation DO'});
profile({name: 'panel-e-profile', letter: 'e)', station: 'St 1', x0: 898, xs: 0.8135, xMax: 344, y0: 757, ys: 1.981, dMax: 264.5, xTicks: bXTicks, dTicks: eDepthTicks,
  hatch: false, bandD: eBandDepth, bandLo: eBandLo, bandHi: eBandHi, meanD: eMeanDepth, mean: eMean, minD: eMinDepth, minV: eMin, maxD: eMaxDepth, maxV: eMax,
  refLines: [90], hypX: 90, xTitle: 'Dissolved Oxygen (\u03bcM)'});
profile({name: 'panel-f-profile', letter: 'f)', station: 'St 1', x0: 1268, xs: 2.213, xMax: 127, y0: 757, ys: 1.981, dMax: 264.5, xTicks: cXTicks, dTicks: eDepthTicks,
  hatch: false, bandD: eBandDepth, bandLo: fBandLo, bandHi: fBandHi, meanD: fMeanDepth, mean: fMean, minD: fMinDepth, minV: fMin, maxD: fMaxDepth, maxV: fMax,
  refLines: [30, 60], hypX: 30, ldowY: 1165, xTitle: '% Saturation DO'});
</script>
</body></html>
